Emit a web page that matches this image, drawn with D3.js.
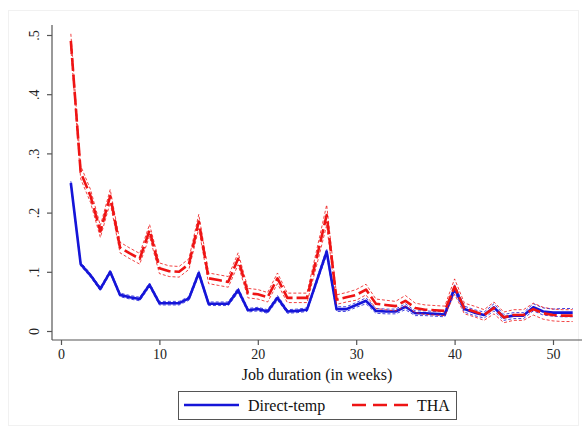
<!DOCTYPE html>
<html>
<head>
<meta charset="utf-8">
<script src="https://cdn.jsdelivr.net/npm/d3@7"></script>
<style>
  body { margin: 0; background: #fff; }
  svg { display: block; font-family: "Liberation Serif", "Times New Roman", serif; }
</style>
</head>
<body>
<svg id="chart" width="587" height="430"></svg>
<script>
// weeks 1..52
const weeks = d3.range(1, 53)

const directTemp = [0.250, 0.113, 0.094, 0.071, 0.100, 0.061, 0.057, 0.054, 0.078, 0.047,
  0.047, 0.047, 0.055, 0.098, 0.046, 0.046, 0.046, 0.069, 0.035, 0.037,
  0.033, 0.056, 0.033, 0.034, 0.036, 0.085, 0.134, 0.037, 0.037, 0.044,
  0.051, 0.034, 0.033, 0.033, 0.041, 0.030, 0.030, 0.029, 0.028, 0.072,
  0.037, 0.031, 0.027, 0.040, 0.023, 0.026, 0.026, 0.040, 0.033, 0.031,
  0.031, 0.031]

const tha = [0.490, 0.268, 0.228, 0.168, 0.228, 0.141, 0.131, 0.122, 0.170, 0.106,
  0.101, 0.100, 0.113, 0.185, 0.089, 0.086, 0.083, 0.122, 0.064, 0.062,
  0.057, 0.089, 0.056, 0.056, 0.056, 0.125, 0.196, 0.053, 0.057, 0.061,
  0.070, 0.046, 0.044, 0.042, 0.051, 0.039, 0.036, 0.035, 0.034, 0.075,
  0.038, 0.033, 0.027, 0.039, 0.023, 0.027, 0.027, 0.037, 0.030, 0.027,
  0.026, 0.026]

// half width of the confidence bands
const directTempCI = [0.003, 0.003, 0.003, 0.003, 0.003, 0.003, 0.003, 0.003, 0.003, 0.003,
  0.003, 0.003, 0.003, 0.004, 0.003, 0.003, 0.003, 0.004, 0.003, 0.003,
  0.003, 0.004, 0.003, 0.003, 0.003, 0.004, 0.005, 0.004, 0.004, 0.004,
  0.005, 0.004, 0.004, 0.004, 0.005, 0.004, 0.004, 0.004, 0.004, 0.006,
  0.005, 0.005, 0.005, 0.006, 0.005, 0.005, 0.005, 0.006, 0.006, 0.006,
  0.007, 0.007]

const thaCI = [0.012, 0.011, 0.011, 0.010, 0.011, 0.009, 0.009, 0.009, 0.010, 0.009,
  0.009, 0.009, 0.009, 0.012, 0.009, 0.009, 0.009, 0.010, 0.008, 0.008,
  0.008, 0.009, 0.008, 0.008, 0.008, 0.013, 0.017, 0.008, 0.008, 0.009,
  0.009, 0.008, 0.008, 0.008, 0.009, 0.008, 0.008, 0.008, 0.008, 0.013,
  0.009, 0.009, 0.009, 0.010, 0.009, 0.009, 0.009, 0.010, 0.010, 0.010,
  0.010, 0.010]

const xTicks = [0, 10, 20, 30, 40, 50]
const yTicks = [0, 0.1, 0.2, 0.3, 0.4, 0.5]
const yTickLabels = ['0', '.1', '.2', '.3', '.4', '.5']
const xLabel = 'Job duration (in weeks)'
const seriesNames = ['Direct-temp', 'THA']

const blue = '#1515d8'
const red = '#ee1414'
const axisColor = '#555'

const svg = d3.select('#chart')

// faint outer frame
svg.append('rect')
  .attr('x', 8.5).attr('y', 10.5)
  .attr('width', 570).attr('height', 415)
  .attr('fill', 'none')
  .attr('stroke', '#f1f1f1')

const x = d3.scaleLinear().domain([0, 50]).range([61, 553])
const y = d3.scaleLinear().domain([0, 0.5]).range([331, 35])

const axisX0 = 52, axisX1 = 582, axisY0 = 25, axisY1 = 340

/**
 * axes: Stata style, ticks outside, rotated y labels
 */
function drawAxes(g) {
  g.append('line')
    .attr('x1', axisX0).attr('x2', axisX0)
    .attr('y1', axisY0).attr('y2', axisY1)
    .attr('stroke', axisColor).attr('stroke-width', 1.2)
  g.append('line')
    .attr('x1', axisX0).attr('x2', axisX1)
    .attr('y1', axisY1).attr('y2', axisY1)
    .attr('stroke', axisColor).attr('stroke-width', 1.2)

  const yAxis = g.append('g')
    .attr('class', 'y-axis')
    .attr('transform', 'translate(' + axisX0 + ',0)')
    .call(d3.axisLeft(y)
      .tickValues(yTicks)
      .tickSize(5)
      .tickFormat((d, i) => yTickLabels[i]))
  yAxis.select('.domain').remove()
  yAxis.selectAll('.tick line').attr('stroke', axisColor).attr('stroke-width', 1.2)
  yAxis.selectAll('.tick text')
    .attr('x', 0).attr('y', 0).attr('dy', null)
    .attr('text-anchor', 'middle')
    .attr('transform', 'translate(-13,0) rotate(-90)')
    .attr('font-size', 14)
    .attr('font-family', '"Liberation Serif", serif')
    .attr('fill', '#222')

  const xAxis = g.append('g')
    .attr('class', 'x-axis')
    .attr('transform', 'translate(0,' + axisY1 + ')')
    .call(d3.axisBottom(x)
      .tickValues(xTicks)
      .tickSize(5)
      .tickPadding(4)
      .tickFormat(d3.format('d')))
  xAxis.select('.domain').remove()
  xAxis.selectAll('.tick line').attr('stroke', axisColor).attr('stroke-width', 1.2)
  xAxis.selectAll('.tick text')
    .attr('font-size', 14)
    .attr('font-family', '"Liberation Serif", serif')
    .attr('fill', '#222')

  g.append('text')
    .attr('x', 317).attr('y', 380)
    .attr('text-anchor', 'middle')
    .attr('font-size', 16)
    .attr('fill', '#111')
    .text(xLabel)
}

function drawSeries(g, values, ci, color, dash) {
  const line = d3.line()
    .x((d, i) => x(weeks[i]))
    .y(d => y(d))

  // confidence band edges
  const lo = values.map((v, i) => v - ci[i])
  const hi = values.map((v, i) => v + ci[i])
  ;[lo, hi].forEach(band => {
    g.append('path')
      .datum(band)
      .attr('d', line)
      .attr('fill', 'none')
      .attr('stroke', color)
      .attr('stroke-opacity', 0.8)
      .attr('stroke-width', 1)
      .attr('stroke-dasharray', '3,2')
  })

  g.append('path')
    .datum(values)
    .attr('d', line)
    .attr('fill', 'none')
    .attr('stroke', color)
    .attr('stroke-width', 2.6)
    .attr('stroke-linejoin', 'round')
    .attr('stroke-dasharray', dash)
}

function drawLegend(g) {
  g.append('rect')
    .attr('x', 178.5).attr('y', 391.5)
    .attr('width', 278).attr('height', 28)
    .attr('fill', '#fff')
    .attr('stroke', '#555')
    .attr('stroke-width', 1)

  g.append('line')
    .attr('x1', 184).attr('x2', 239)
    .attr('y1', 405).attr('y2', 405)
    .attr('stroke', blue).attr('stroke-width', 2.4)
  g.append('text')
    .attr('x', 248).attr('y', 411)
    .attr('font-size', 16).attr('fill', '#111')
    .text(seriesNames[0])

  g.append('line')
    .attr('x1', 352).attr('x2', 408)
    .attr('y1', 405).attr('y2', 405)
    .attr('stroke', red).attr('stroke-width', 2.4)
    .attr('stroke-dasharray', '14,7')
  g.append('text')
    .attr('x', 417).attr('y', 411)
    .attr('font-size', 16).attr('fill', '#111')
    .text(seriesNames[1])
}

const g = svg.append('g')
drawAxes(g)
drawSeries(g.append('g'), directTemp, directTempCI, blue, null)
drawSeries(g.append('g'), tha, thaCI, red, '13,4')
drawLegend(g)
</script>
</body>
</html>
